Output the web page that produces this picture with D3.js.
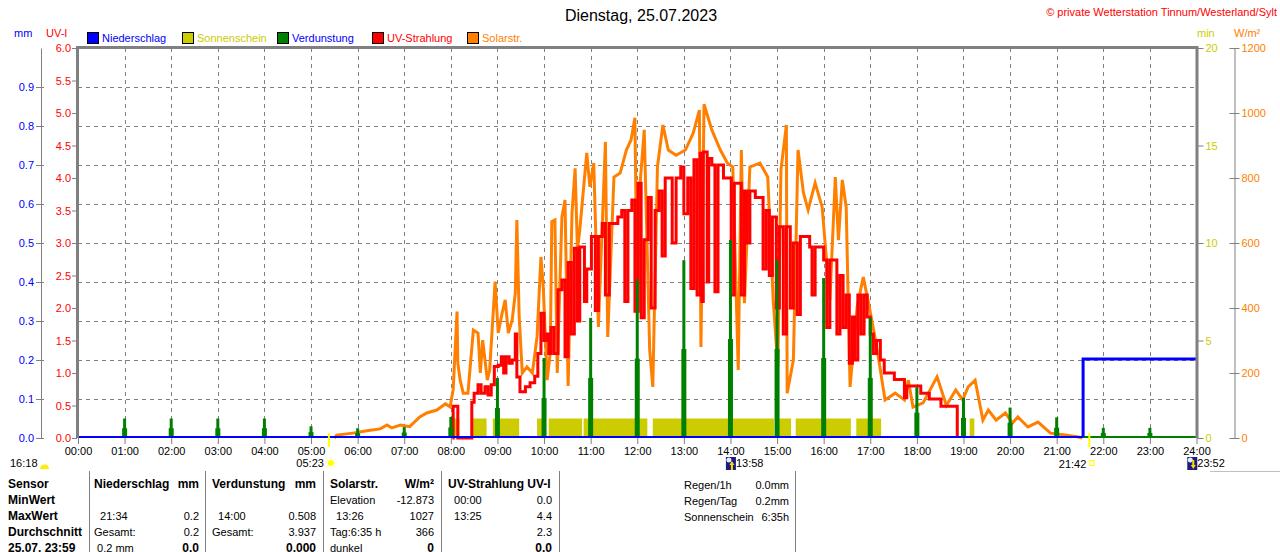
<!DOCTYPE html>
<html>
<head>
<meta charset="utf-8">
<script src="https://cdn.jsdelivr.net/npm/d3@7"></script>
<style>
  body { margin: 0; background: #fff; }
  svg { display: block; font-family: "Liberation Sans", Arial, sans-serif; font-size: 11px; }
  text { white-space: pre; }
</style>
</head>
<body>
<svg id="chart" width="1280" height="552"></svg>
<script>
// ---- data ----
const hourLabels = ["00:00","01:00","02:00","03:00","04:00","05:00","06:00","07:00","08:00","09:00","10:00","11:00",
  "12:00","13:00","14:00","15:00","16:00","17:00","18:00","19:00","20:00","21:00","22:00","23:00","24:00"];
const mmTicks = [0.0, 0.1, 0.2, 0.3, 0.4, 0.5, 0.6, 0.7, 0.8, 0.9];
const uvTicks = [0, 0.5, 1, 1.5, 2, 2.5, 3, 3.5, 4, 4.5, 5, 5.5, 6];
const minTicks = [0, 5, 10, 15, 20];
const solarTicks = [0, 200, 400, 600, 800, 1000, 1200];

// Niederschlag (mm)
const niederschlag = [["00:00", 0], ["21:34", 0.2], ["24:00", 0.2]];

// Sonnenschein (min) as sunny intervals
const sonnenMin = 1;
const sonnenschein = [["08:02","08:11"],["08:28","08:46"],["08:54","09:28"],["09:51","09:58"],["10:06","10:49"],
  ["10:51","12:13"],["12:20","14:56"],["14:58","15:18"],["15:24","16:35"],["16:42","17:14"],["19:08","19:14"]];

// Verdunstung (mm) per hour
const verdunstung = [["01:00",0.05],["02:00",0.05],["03:00",0.05],["04:00",0.05],["05:00",0.03],["06:00",0.025],
  ["07:00",0.028],["08:00",0.054],["09:00",0.154],["10:00",0.205],["11:00",0.308],["12:00",0.407],["13:00",0.456],
  ["14:00",0.508],["15:00",0.456],["16:00",0.41],["17:00",0.308],["18:00",0.13],["19:00",0.103],["20:00",0.078],
  ["21:00",0.053],["22:00",0.026],["23:00",0.026]];

// UV-Strahlung (UV-I)
const uvStrahlung = [["08:02",0],["08:03",0.49],["08:07",0.49],["08:09",0],["08:25",0],["08:27",0.55],["08:30",0.69],
  ["08:35",0.82],["08:39",0.69],["08:44",0.79],["08:48",0.66],["08:52",0.82],["08:56",1.1],["09:01",1.12],["09:05",1.25],
  ["09:08",1.0],["09:11",1.25],["09:15",1.15],["09:19",1.2],["09:23",1.6],["09:25",0.94],["09:29",0.71],["09:36",0.79],
  ["09:42",0.85],["09:48",0.95],["09:52",1.3],["09:56",1.92],["10:00",1.5],["10:04",1.6],["10:06",1.3],["10:09",1.7],
  ["10:13",1.3],["10:18",2.28],["10:23",2.43],["10:27",1.25],["10:31",2.7],["10:35",1.6],["10:39",2.92],["10:43",1.8],
  ["10:46",2.94],["10:52",2.1],["10:55",2.6],["11:01",3.1],["11:06",1.96],["11:10",3.1],["11:15",3.3],["11:19",2.2],
  ["11:24",3.3],["11:30",3.3],["11:35",3.4],["11:40",3.5],["11:44",2.1],["11:48",3.5],["11:53",3.66],["11:57",1.95],
  ["12:01",3.92],["12:05",1.85],["12:09",3.05],["12:14",3.7],["12:18",2.0],["12:23",3.5],["12:28",3.8],["12:32",2.8],
  ["12:36",4.0],["12:42",4.0],["12:45",3.0],["12:50",4.0],["12:56",4.17],["13:00",3.45],["13:05",4.0],["13:09",2.3],
  ["13:13",4.28],["13:17",2.2],["13:21",4.38],["13:23",2.1],["13:25",4.4],["13:30",2.4],["13:32",4.3],["13:36",4.2],
  ["13:40",2.25],["13:44",4.2],["13:51",4.0],["13:57",4.0],["14:01",2.2],["14:05",3.92],["14:10",3.92],["14:14",2.2],
  ["14:18",3.8],["14:21",3.0],["14:25",3.8],["14:32",3.7],["14:38",3.7],["14:42",2.6],["14:46",3.5],["14:50",2.5],
  ["14:54",3.4],["14:59",2.0],["15:03",3.25],["15:08",1.6],["15:12",3.25],["15:17",2.0],["15:21",3.0],["15:26",1.9],
  ["15:30",3.1],["15:37",3.1],["15:42",2.94],["15:45",2.2],["15:49",2.94],["15:55",2.94],["16:00",2.74],["16:04",1.7],
  ["16:08",2.74],["16:13",2.74],["16:17",1.6],["16:21",2.5],["16:25",1.7],["16:29",2.2],["16:33",1.15],["16:37",1.86],
  ["16:40",1.2],["16:44",2.2],["16:48",1.6],["16:52",2.2],["16:56",1.86],["17:00",1.6],["17:04",1.3],["17:08",1.5],
  ["17:13",1.2],["17:18",1.0],["17:31",0.9],["17:44",0.62],["17:47",0.8],["18:05",0.69],["18:16",0.6],["18:31",0.49],
  ["18:52",0]];

// Solarstrahlung (W/m²)
const solarStr = [["05:30",0],["05:33",9],["05:54",15],["06:12",22],["06:29",28],["06:38",40],["06:44",31],["06:55",40],
  ["07:07",35],["07:20",65],["07:29",77],["07:42",86],["07:53",105],["07:59",96],["08:03",148],["08:08",389],["08:09",230],
  ["08:12",178],["08:16",138],["08:22",138],["08:29",332],["08:35",323],["08:38",200],["08:41",301],["08:47",178],
  ["08:50",209],["08:57",481],["09:01",323],["09:06",384],["09:10",425],["09:14",323],["09:19",363],["09:23",446],
  ["09:25",671],["09:28",372],["09:32",200],["09:38",219],["09:45",200],["09:51",311],["09:56",557],["09:59",465],
  ["10:04",178],["10:08",261],["10:10",666],["10:14",671],["10:17",200],["10:23",680],["10:27",732],["10:31",160],
  ["10:36",692],["10:40",830],["10:43",578],["10:46",640],["10:55",877],["10:59",773],["11:04",846],["11:10",342],
  ["11:19",911],["11:22",311],["11:30",803],["11:38",815],["11:46",886],["11:52",917],["11:57",985],["12:00",385],
  ["12:02",732],["12:09",948],["12:16",271],["12:20",157],["12:26",834],["12:33",963],["12:40",886],["12:50",870],
  ["13:02",886],["13:12",938],["13:20",1009],["13:22",280],["13:26",1027],["13:36",948],["13:47",886],["13:56",846],
  ["14:03",834],["14:10",209],["14:14",886],["14:18",415],["14:25",834],["14:38",846],["14:48",803],["14:55",425],
  ["15:01",218],["15:05",825],["15:12",963],["15:13",138],["15:21",240],["15:27",886],["15:34",754],["15:40",702],
  ["15:49",785],["15:58",711],["16:08",425],["16:15",803],["16:19",609],["16:24",794],["16:29",711],["16:34",157],
  ["16:43",403],["16:51",495],["16:57",425],["17:05",323],["17:11",240],["17:19",117],["17:32",138],["17:44",117],
  ["17:49",178],["17:55",95],["18:08",108],["18:26",188],["18:38",100],["18:50",148],["18:59",117],["19:06",157],
  ["19:15",178],["19:25",55],["19:32",86],["19:42",55],["19:54",77],["20:03",46],["20:10",65],["20:23",34],
  ["20:36",49],["20:52",15],["21:11",9],["21:28",3],["21:33",0]];

const legendItems = [
  { name: "Niederschlag", box: "#0000ff", text: "#0000ff" },
  { name: "Sonnenschein", box: "#cccc00", text: "#cccc00" },
  { name: "Verdunstung", box: "#008000", text: "#0000ff" },
  { name: "UV-Strahlung", box: "#ff0000", text: "#ff0000" },
  { name: "Solarstr.", box: "#ff8000", text: "#ff8000" }
];

const tableLabels = ["Sensor", "MinWert", "MaxWert", "Durchschnitt", "25.07. 23:59"];
const tableColumns = [
  { head: ["Niederschlag", "mm"], rows: [["", ""], ["  21:34", "0.2"], ["Gesamt:", "0.2"], [" 0.2 mm", "0.0"]] },
  { head: ["Verdunstung", "mm"], rows: [["", ""], ["  14:00", "0.508"], ["Gesamt:", "3.937"], ["", "0.000"]] },
  { head: ["Solarstr.", "W/m²"], rows: [["Elevation", "-12.873"], ["  13:26", "1027"], ["Tag:6:35 h", "366"], ["dunkel", "0"]] },
  { head: ["UV-Strahlung UV-I", ""], rows: [["  00:00", "0.0"], ["  13:25", "4.4"], ["", "2.3"], ["", "0.0"]] }
];
const summaryRows = [["Regen/1h", "0.0mm"], ["Regen/Tag", "0.2mm"], ["Sonnenschein", "6:35h"]];

// ---- layout ----
const plot = { left: 78, right: 1196.5, top: 48, bottom: 438 };
const gray = "#808080";
const toMin = s => +s.slice(0, 2) * 60 + +s.slice(3, 5);

const svg = d3.select("#chart");

const x = d3.scaleLinear().domain([0, 1440]).range([plot.left, plot.right]);
const yMm = d3.scaleLinear().domain([0, 1]).range([plot.bottom, plot.top]);
const yUv = d3.scaleLinear().domain([0, 6]).range([plot.bottom, plot.top]);
const yMin = d3.scaleLinear().domain([0, 20]).range([plot.bottom, plot.top]);
const ySol = d3.scaleLinear().domain([0, 1200]).range([plot.bottom, plot.top]);

// title
svg.append("text")
    .attr("x", 641).attr("y", 21)
    .attr("text-anchor", "middle")
    .attr("font-size", 16)
    .text("Dienstag, 25.07.2023");

svg.append("text")
    .attr("x", 1277).attr("y", 16)
    .attr("text-anchor", "end")
    .attr("fill", "#ff0000")
    .text("© private Wetterstation Tinnum/Westerland/Sylt");

// unit labels
svg.append("text").attr("x", 14).attr("y", 37).attr("fill", "#0000ff").text("mm");
svg.append("text").attr("x", 46).attr("y", 37).attr("fill", "#ff0000").text("UV-I");
svg.append("text").attr("x", 1197).attr("y", 37).attr("fill", "#cccc00").text("min");
svg.append("text").attr("x", 1234).attr("y", 37).attr("fill", "#ff8000").text("W/m²");

// legend
const legend = svg.append("g")
  .selectAll("g")
  .data(legendItems)
  .join("g")
    .attr("transform", (d, i) => `translate(${87 + i * 95},0)`);

legend.append("rect")
    .attr("x", 0.5).attr("y", 32.5)
    .attr("width", 11).attr("height", 11)
    .attr("fill", d => d.box)
    .attr("stroke", "#000");

legend.append("text")
    .attr("x", 15).attr("y", 42)
    .attr("fill", d => d.text)
    .text(d => d.name);

// grid
svg.append("g")
  .selectAll("line")
  .data(mmTicks.filter(d => d > 0))
  .join("line")
    .attr("x1", plot.left).attr("x2", plot.right)
    .attr("y1", d => Math.round(yMm(d)) + 0.5)
    .attr("y2", d => Math.round(yMm(d)) + 0.5)
    .attr("stroke", gray)
    .attr("stroke-dasharray", "4,4");

svg.append("g")
  .selectAll("line")
  .data(d3.range(60, 1440, 60))
  .join("line")
    .attr("x1", d => Math.round(x(d)) + 0.5)
    .attr("x2", d => Math.round(x(d)) + 0.5)
    .attr("y1", plot.top).attr("y2", plot.bottom)
    .attr("stroke", gray)
    .attr("stroke-dasharray", "4,4");

// axes
const styleAxis = (g, color) => {
  g.attr("font-family", null).attr("font-size", 11);
  g.selectAll(".tick line").attr("stroke", gray);
  g.selectAll(".tick text").attr("fill", color);
  g.select(".domain").attr("stroke", gray);
};

svg.append("g")
    .attr("transform", "translate(41,0)")
    .call(d3.axisLeft(yMm).tickValues(mmTicks).tickFormat(d3.format(".1f")).tickSize(5).tickSizeOuter(0).tickPadding(2))
    .call(g => styleAxis(g, "#0000ff"))
    .call(g => g.selectAll(".tick line").attr("x1", 3));

svg.append("g")
    .attr("transform", `translate(${plot.left - 1},0)`)
    .call(d3.axisLeft(yUv).tickValues(uvTicks).tickFormat(d3.format(".1f")).tickSize(5).tickPadding(1))
    .call(g => styleAxis(g, "#ff0000"))
    .call(g => g.select(".domain").remove());

svg.append("g")
    .attr("transform", `translate(${plot.right + 1},0)`)
    .call(d3.axisRight(yMin).tickValues(minTicks).tickSize(6).tickPadding(2))
    .call(g => styleAxis(g, "#cccc00"))
    .call(g => g.select(".domain").remove());

svg.append("g")
    .attr("transform", "translate(1234.5,0)")
    .call(d3.axisRight(ySol).tickValues(solarTicks).tickFormat(d3.format("d")).tickSize(5).tickSizeOuter(0).tickPadding(2))
    .call(g => styleAxis(g, "#ff8000"))
    .call(g => g.selectAll(".tick line").attr("x1", -5));

svg.append("g")
    .attr("transform", `translate(0,${plot.bottom})`)
    .call(d3.axisBottom(x).tickValues(d3.range(0, 1441, 60)).tickFormat(d => hourLabels[d / 60]).tickSize(6).tickPadding(3))
    .call(g => styleAxis(g, "#000"))
    .call(g => g.select(".domain").remove());

// Sonnenschein
svg.append("g")
  .selectAll("rect")
  .data(sonnenschein)
  .join("rect")
    .attr("x", d => x(toMin(d[0])))
    .attr("width", d => x(toMin(d[1])) - x(toMin(d[0])))
    .attr("y", yMin(sonnenMin))
    .attr("height", yMin(0) - yMin(sonnenMin))
    .attr("fill", "#cccc00");

// Solarstrahlung
svg.append("path")
    .datum(solarStr)
    .attr("fill", "none")
    .attr("stroke", "#ff8000")
    .attr("stroke-width", 3)
    .attr("d", d3.line().x(d => x(toMin(d[0]))).y(d => ySol(d[1])));

// UV-Strahlung
svg.append("path")
    .datum(uvStrahlung)
    .attr("fill", "none")
    .attr("stroke", "#ff0000")
    .attr("stroke-width", 3)
    .attr("d", d3.line().curve(d3.curveStepAfter).x(d => x(toMin(d[0]))).y(d => yUv(d[1])));

// Verdunstung: zero line + hourly spikes
svg.append("line")
    .attr("x1", plot.left).attr("x2", plot.right)
    .attr("y1", plot.bottom - 1).attr("y2", plot.bottom - 1)
    .attr("stroke", "#008000")
    .attr("stroke-width", 2);

const spikes = svg.append("g")
  .selectAll("g")
  .data(verdunstung)
  .join("g");

spikes.append("rect")
    .attr("x", d => x(toMin(d[0])) - 2.5)
    .attr("width", 5)
    .attr("y", d => yMm(d[1] / 2))
    .attr("height", d => yMm(0) - yMm(d[1] / 2))
    .attr("fill", "#008000");

spikes.append("rect")
    .attr("x", d => x(toMin(d[0])) - 1.5)
    .attr("width", 3)
    .attr("y", d => yMm(d[1]))
    .attr("height", d => yMm(0) - yMm(d[1]))
    .attr("fill", "#008000");

// Niederschlag: thin zero line until the rain, thick line from then on
const rainStart = niederschlag.find(d => d[1] > 0)[0];
const rainLine = d3.line().curve(d3.curveStepAfter).x(d => x(toMin(d[0]))).y(d => yMm(d[1]) - 1);

svg.append("path")
    .datum(niederschlag.slice(0, 1).concat([[rainStart, 0]]))
    .attr("fill", "none")
    .attr("stroke", "#0000ff")
    .attr("stroke-width", 2)
    .attr("d", rainLine);

svg.append("path")
    .datum([[rainStart, 0]].concat(niederschlag.slice(1)))
    .attr("fill", "none")
    .attr("stroke", "#0000ff")
    .attr("stroke-width", 3)
    .attr("d", d3.line().x(d => x(toMin(d[0]))).y(d => yMm(d[1]) - 1)
        .defined(() => true)
        .curve(d3.curveLinear));

// frame
svg.append("path")
    .attr("d", `M${plot.left - 0.5},${plot.bottom}V${plot.top - 0.5}H${plot.right + 0.5}V${plot.bottom}`)
    .attr("fill", "none")
    .attr("stroke", gray)
    .attr("stroke-width", 3);

// sun / moon markers
const sunrise = "05:23", sunset = "21:42", moonrise = "13:58", moonset = "23:52";

[sunrise, sunset].forEach(t => {
  svg.append("line")
      .attr("x1", x(toMin(t))).attr("x2", x(toMin(t)))
      .attr("y1", 433).attr("y2", 447)
      .attr("stroke", "#ffff00")
      .attr("stroke-width", 2);
});

svg.append("text").attr("x", 10).attr("y", 467).text("16:18");
svg.append("path")
    .attr("d", "M40,469 A4.5,4.5 0 0 1 49,469 Z")
    .attr("fill", "#ffee00");

svg.append("text").attr("x", x(toMin(sunrise)) - 5).attr("y", 467).attr("text-anchor", "end").text(sunrise);
svg.append("g")
    .attr("transform", `translate(${x(toMin(sunrise)) + 2},463)`)
    .call(g => {
      g.append("circle").attr("r", 3).attr("fill", "#ffff00");
      g.selectAll("line").data(d3.range(8)).join("line")
          .attr("x1", d => Math.cos(d * Math.PI / 4) * 4).attr("y1", d => Math.sin(d * Math.PI / 4) * 4)
          .attr("x2", d => Math.cos(d * Math.PI / 4) * 6).attr("y2", d => Math.sin(d * Math.PI / 4) * 6)
          .attr("stroke", "#ffff66");
    });

svg.append("text").attr("x", x(toMin(sunset)) - 3).attr("y", 468).attr("text-anchor", "end").text(sunset);
svg.append("rect")
    .attr("x", x(toMin(sunset)) + 0.5).attr("y", 460.5)
    .attr("width", 4).attr("height", 5)
    .attr("fill", "none").attr("stroke", "#ffff00");

const moonIcon = (t, up) => {
  const mx = x(toMin(t)) - 3;
  const g = svg.append("g").attr("transform", `translate(${mx},457)`);
  g.append("rect").attr("width", 10).attr("height", 13).attr("fill", "#1c1c80");
  g.append("circle").attr("cx", 3).attr("cy", 3).attr("r", 2.5).attr("fill", "#e8e8ff");
  g.append("path")
      .attr("d", up ? "M6,4 L8.5,8 H7 V13 H5 V8 H3.5 Z" : "M6,12 L8.5,8 H7 V3 H5 V8 H3.5 Z")
      .attr("fill", "#ffdd00");
  svg.append("text").attr("x", mx + 10).attr("y", 467).text(t);
};
moonIcon(moonrise, true);
moonIcon(moonset, false);

// table
const rowY = [488, 504, 520, 536, 552];
const colX = [[94, 199], [212, 316], [330, 434], [448, 552]];

svg.append("g")
  .selectAll("line")
  .data([89, 205, 323, 441, 559, 795])
  .join("line")
    .attr("x1", d => d + 0.5).attr("x2", d => d + 0.5)
    .attr("y1", 471).attr("y2", 552)
    .attr("stroke", gray);

svg.append("line")
    .attr("x1", 1210).attr("x2", 1280)
    .attr("y1", 471.5).attr("y2", 471.5)
    .attr("stroke", "#c0c0c0");

svg.append("g")
  .selectAll("text")
  .data(tableLabels)
  .join("text")
    .attr("x", 8)
    .attr("y", (d, i) => rowY[i])
    .attr("font-weight", "bold")
    .attr("font-size", 12)
    .text(d => d);

tableColumns.forEach((col, c) => {
  const [x0, x1] = colX[c];
  svg.append("text").attr("x", x0).attr("y", rowY[0]).attr("font-weight", "bold").attr("font-size", 12).text(col.head[0]);
  svg.append("text").attr("x", x1).attr("y", rowY[0]).attr("text-anchor", "end")
      .attr("font-weight", "bold").attr("font-size", 12).text(col.head[1]);
  col.rows.forEach((r, i) => {
    const last = i === col.rows.length - 1;
    svg.append("text").attr("x", x0).attr("y", rowY[i + 1]).text(r[0]);
    svg.append("text").attr("x", x1).attr("y", rowY[i + 1]).attr("text-anchor", "end")
        .attr("font-weight", last ? "bold" : null)
        .attr("font-size", last ? 12 : 11)
        .text(r[1]);
  });
});

summaryRows.forEach((r, i) => {
  svg.append("text").attr("x", 684).attr("y", rowY[i] + 1).text(r[0]);
  svg.append("text").attr("x", 789).attr("y", rowY[i] + 1).attr("text-anchor", "end").text(r[1]);
});
</script>
</body>
</html>
